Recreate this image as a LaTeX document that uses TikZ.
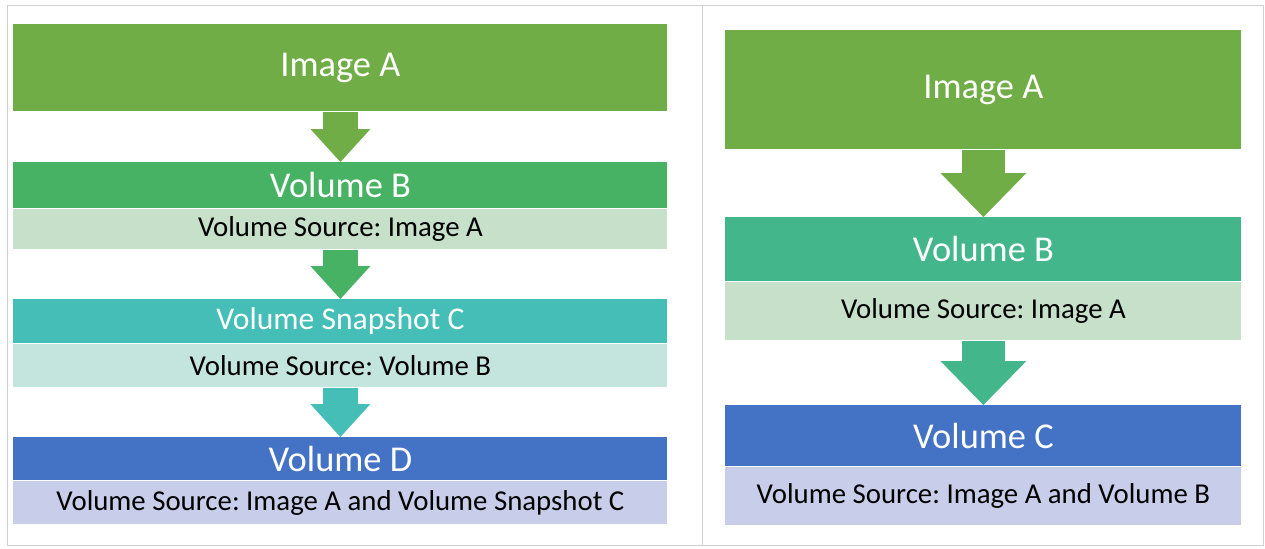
\documentclass[tikz,border=0pt]{standalone}
\usepackage{fontspec}
\setmainfont{Carlito}
\usetikzlibrary{arrows.meta,positioning}
\frenchspacing

\definecolor{imggreen}{HTML}{70AD47}
\definecolor{volgreen}{HTML}{48B264}
\definecolor{volteal}{HTML}{44B68B}
\definecolor{snapteal}{HTML}{44BEB6}
\definecolor{volblue}{HTML}{4472C4}
\definecolor{bandgreen}{HTML}{C6E0C9}
\definecolor{bandteal}{HTML}{C4E4DE}
\definecolor{bandblue}{HTML}{C8CEEA}
\definecolor{framegray}{HTML}{D0D0D0}

\begin{document}
\begin{tikzpicture}[x=0.5pt, y=-0.5pt,
    hdr/.style={inner sep=0pt, text=white, font=\fontsize{18.2}{20}\selectfont},
    src/.style={inner sep=0pt, text=black, font=\fontsize{14.4}{16}\selectfont},
    lcol/.style={minimum width=327pt},
    rcol/.style={minimum width=258pt},
    lflow/.style={line width=17.5pt, -{Triangle[width=30pt, length=16.5pt, line width=0pt]}},
    rflow/.style={line width=21.5pt, -{Triangle[width=43pt, length=22pt, line width=0pt]}}]

    \useasboundingbox (0,0) rectangle (1265,548);

    % Frame and divider
    \draw[framegray, line width=0.5pt] (7,5) rectangle (1263,545);
    \draw[framegray, line width=0.5pt] (702,5) -- (702,545);

    % Left chain
    \node[hdr, lcol, fill=imggreen, minimum height=43.5pt, anchor=north west] (la) at (13,24) {Image A};

    \node[hdr, lcol, fill=volgreen, minimum height=23pt, anchor=north west] (lb) at (13,162) {Volume B};
    \node[src, lcol, fill=bandgreen, minimum height=20pt, below=0pt of lb] (lbsrc) {Volume Source: Image A};

    \node[hdr, lcol, fill=snapteal, minimum height=22pt, anchor=north west,
          font=\fontsize{15.8}{18}\selectfont] (lc) at (13,299) {Volume Snapshot C};
    \node[src, lcol, fill=bandteal, minimum height=21.5pt, below=0pt of lc] (lcsrc) {Volume Source: Volume B};

    \node[hdr, lcol, fill=volblue, minimum height=21.5pt, anchor=north west] (ld) at (13,437) {Volume D};
    \node[src, lcol, fill=bandblue, minimum height=21.5pt, below=0pt of ld] (ldsrc) {Volume Source: Image A and Volume Snapshot C};

    \draw[lflow, imggreen] (la.south) -- (lb.north);
    \draw[lflow, volgreen] (lbsrc.south) -- (lc.north);
    \draw[lflow, snapteal] (lcsrc.south) -- (ld.north);

    % Right chain
    \node[hdr, rcol, fill=imggreen, minimum height=59.5pt, anchor=north west] (ra) at (725,30) {Image A};

    \node[hdr, rcol, fill=volteal, minimum height=32pt, anchor=north west] (rb) at (725,217) {Volume B};
    \node[src, rcol, fill=bandgreen, minimum height=29pt, below=0pt of rb] (rbsrc) {Volume Source: Image A};

    \node[hdr, rcol, fill=volblue, minimum height=30.5pt, anchor=north west] (rc) at (725,405) {Volume C};
    \node[src, rcol, fill=bandblue, minimum height=29pt, below=0pt of rc] (rcsrc) {Volume Source: Image A and Volume B};

    \draw[rflow, imggreen] (ra.south) -- (rb.north);
    \draw[rflow, volteal] (rbsrc.south) -- (rc.north);

\end{tikzpicture}
\end{document}
